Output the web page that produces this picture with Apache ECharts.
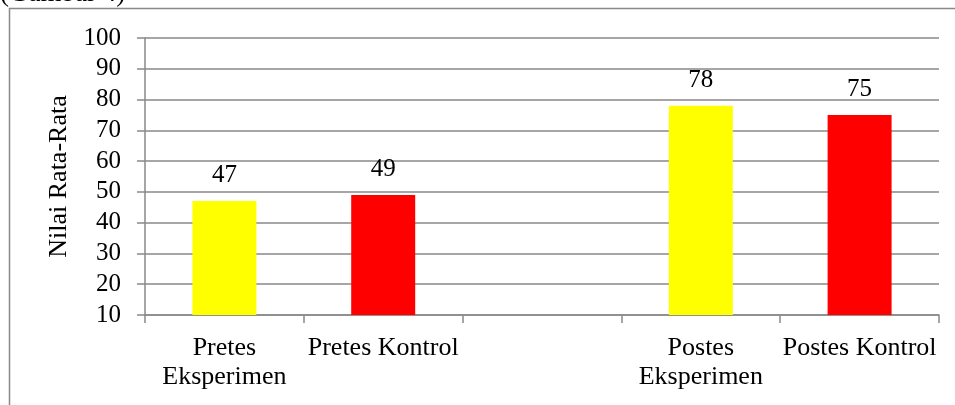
<!DOCTYPE html>
<html>
<head>
<meta charset="utf-8">
<script src="https://cdn.jsdelivr.net/npm/echarts@6/dist/echarts.min.js"></script>
<style>
  html, body { margin: 0; padding: 0; background: #fff; }
  #chart { width: 955px; height: 405px; }
</style>
</head>
<body>
<div id="chart"></div>
<script>
// Kelompok dan nilai rata-rata (kategori kosong memisahkan pretes dan postes)
const categories = ['Pretes\nEksperimen', 'Pretes Kontrol', '', 'Postes\nEksperimen', 'Postes Kontrol'];
const nilaiRataRata = [47, 49, null, 78, 75];
const barColors = ['#FFFF00', '#FF0000', '#FFFF00', '#FFFF00', '#FF0000'];
const yMin = 10, yMax = 100, yStep = 10;

const serif = '"Liberation Serif", "Times New Roman", serif';
const grey = '#898989';

const chart = echarts.init(document.getElementById('chart'), null, { renderer: 'canvas' });

chart.setOption({
  animation: false,
  backgroundColor: '#ffffff',
  graphic: [
    {
      type: 'rect',
      shape: { x: 9.5, y: 8.5, width: 1000, height: 500 },
      style: { fill: 'none', stroke: grey, lineWidth: 1.5 },
      silent: true
    },
    {
      type: 'text',
      left: 0,
      top: -20,
      style: { text: '(Gambar 4)', font: '27px ' + serif, fill: '#000' },
      silent: true
    }
  ],
  grid: { left: 145, right: 16, top: 38, bottom: 90 },
  xAxis: {
    type: 'category',
    data: categories,
    axisLine: { lineStyle: { color: grey, width: 1.5 } },
    axisTick: { show: true, length: 8, lineStyle: { color: grey, width: 1.5 } },
    axisLabel: {
      interval: 0,
      margin: 19,
      color: '#000',
      fontFamily: serif,
      fontSize: 26,
      lineHeight: 29
    },
    splitLine: { show: false }
  },
  yAxis: {
    type: 'value',
    min: yMin,
    max: yMax,
    interval: yStep,
    name: 'Nilai Rata-Rata',
    nameLocation: 'middle',
    nameGap: 71,
    nameTextStyle: { color: '#000', fontFamily: serif, fontSize: 26 },
    axisLine: { show: true, lineStyle: { color: grey, width: 1.5 } },
    axisTick: { show: true, length: 8, lineStyle: { color: grey, width: 1.5 } },
    axisLabel: { margin: 24, color: '#000', fontFamily: serif, fontSize: 25 },
    splitLine: { show: true, lineStyle: { color: grey, width: 1.5 } }
  },
  series: [{
    type: 'bar',
    barWidth: 64,
    data: nilaiRataRata.map((v, i) => ({ value: v, itemStyle: { color: barColors[i] } })),
    label: {
      show: true,
      position: 'top',
      distance: 13,
      color: '#000',
      fontFamily: serif,
      fontSize: 25,
      lineHeight: 25
    }
  }]
});
</script>
</body>
</html>
